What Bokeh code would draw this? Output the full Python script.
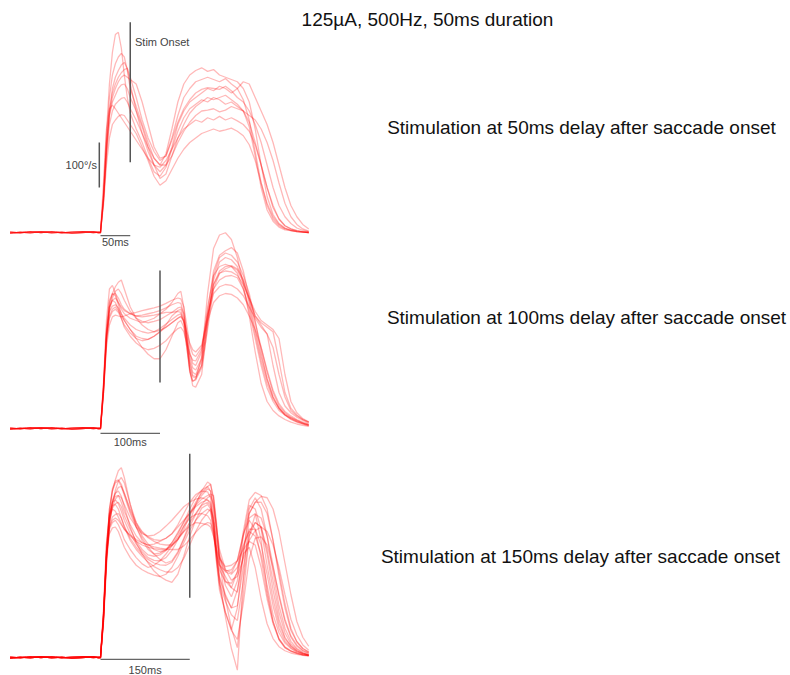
from bokeh.plotting import figure
from bokeh.models import Range1d, Label
from bokeh.embed import file_html
from bokeh.resources import INLINE

# ---------------- data (time in ms after saccade onset, eye velocity in deg/s) -------------
title_text = "125\u00b5A, 500Hz, 50ms duration"
panel_labels = ["Stimulation at 50ms delay after saccade onset",
                "Stimulation at 100ms delay after saccade onset",
                "Stimulation at 150ms delay after saccade onset"]
stim_delays = [50, 100, 150]
scale_bar_ms = [50, 100, 150]
scale_bar_labels = ["50ms", "100ms", "150ms"]
velocity_bar = [100, 200]          # 100 deg/s scale bar
velocity_bar_label = "100\u00b0/s"

# pre-saccade baseline (two recordings patterns)
pre_t = [-152, -135, -118, -100, -82, -65, -48, -30, -12, -3]
pre_a = [1, -1, 2, 0, 2, -1, 1, 2, 0, 1]
pre_b = [-2, 1, -1, 2, -1, 1, -2, 0, 2, -1]

# ---- panel 1: stimulation 50 ms after onset
p1_t = [0, 5, 10, 15, 20, 25, 30, 35, 40, 45, 50, 60, 70, 80, 90, 100, 110, 120, 130, 140, 150,
        160, 170, 180, 190, 200, 210, 220, 230, 240, 250, 260, 270, 280, 290, 300, 310, 320, 330, 340, 350]
p1_v1 = [0, 90, 220, 330, 400, 440, 445, 410, 350, 300, 265, 230, 200, 165, 135, 125, 145, 185, 225, 255, 275,
         285, 295, 290, 300, 295, 285, 290, 280, 270, 235, 170, 100, 50, 25, 12, 6, 4, 2, 1, 0]
p1_v2 = [0, 80, 200, 300, 350, 375, 390, 398, 390, 360, 320, 280, 240, 200, 165, 150, 175, 230, 290, 330, 350,
         360, 366, 358, 362, 350, 345, 340, 335, 320, 290, 230, 150, 80, 40, 20, 10, 5, 3, 1, 0]
p1_v3 = [0, 70, 180, 270, 320, 345, 360, 372, 378, 365, 330, 270, 220, 180, 150, 135, 150, 190, 240, 270, 290,
         300, 310, 320, 315, 325, 320, 310, 320, 335, 330, 300, 270, 240, 200, 150, 100, 60, 35, 18, 8]
p1_v4 = [0, 75, 190, 270, 310, 330, 345, 355, 362, 365, 345, 300, 250, 210, 180, 160, 170, 205, 245, 275, 295,
         310, 318, 322, 320, 318, 325, 315, 300, 290, 270, 240, 200, 150, 100, 60, 35, 20, 10, 5, 2]
p1_v5 = [0, 80, 200, 260, 290, 305, 320, 328, 330, 320, 300, 270, 235, 190, 150, 120, 130, 170, 210, 240, 265,
         280, 290, 300, 295, 300, 305, 295, 285, 270, 245, 200, 150, 100, 55, 30, 15, 8, 4, 2, 0]
p1_v6 = [0, 70, 170, 240, 270, 285, 292, 298, 300, 290, 275, 250, 220, 190, 165, 150, 150, 170, 200, 225, 245,
         260, 270, 272, 275, 268, 272, 280, 275, 270, 260, 250, 230, 200, 160, 110, 65, 35, 18, 8, 3]
p1_v7 = [0, 60, 150, 210, 240, 250, 258, 262, 260, 250, 240, 220, 190, 160, 125, 105, 115, 140, 165, 185, 200,
         210, 220, 225, 230, 225, 228, 232, 225, 215, 195, 160, 110, 65, 35, 18, 9, 5, 2, 1, 0]
p1_v8 = [0, 110, 230, 275, 283, 275, 265, 255, 245, 235, 225, 205, 185, 165, 150, 145, 160, 185, 210, 230, 240,
         250, 245, 255, 250, 258, 250, 255, 248, 240, 225, 195, 150, 100, 60, 30, 15, 8, 4, 2, 0]
p1_v9 = [0, 70, 175, 260, 300, 320, 335, 345, 350, 345, 340, 330, 290, 240, 190, 165, 170, 210, 260, 300, 320,
         335, 340, 345, 340, 335, 342, 330, 320, 295, 250, 180, 110, 60, 30, 15, 8, 4, 2, 1, 0]

# ---- panel 2: stimulation 100 ms after onset
p2_t = [0, 5, 10, 15, 20, 25, 30, 35, 40, 50, 60, 70, 80, 90, 100, 110, 120, 130, 135, 140, 145, 150, 155, 160,
        170, 180, 190, 200, 210, 220, 230, 240, 250, 260, 270, 280, 290, 300, 310, 320, 330, 340, 350]
p2_v1 = [0, 100, 240, 310, 318, 300, 280, 265, 255, 245, 240, 235, 240, 245, 255, 265, 280, 300, 305, 270, 200, 130, 105, 110,
         160, 300, 400, 430, 435, 420, 380, 320, 250, 170, 100, 60, 40, 28, 20, 14, 10, 7, 5]
p2_v2 = [0, 80, 200, 270, 300, 315, 325, 330, 310, 270, 245, 230, 220, 215, 218, 225, 235, 245, 250, 240, 200, 150, 125, 120,
         150, 260, 350, 385, 395, 402, 390, 350, 290, 250, 230, 210, 140, 80, 50, 35, 25, 18, 12]
p2_v3 = [0, 90, 210, 270, 285, 290, 280, 270, 262, 255, 250, 252, 255, 258, 262, 268, 275, 280, 278, 255, 210, 170, 145, 140,
         170, 270, 340, 360, 365, 360, 345, 310, 260, 200, 140, 90, 60, 40, 30, 22, 16, 12, 8]
p2_v4 = [0, 85, 200, 250, 265, 270, 262, 250, 240, 220, 200, 180, 165, 155, 155, 175, 205, 235, 240, 225, 180, 135, 115, 112,
         140, 240, 320, 350, 360, 362, 355, 330, 290, 250, 235, 225, 215, 150, 80, 45, 30, 20, 14]
p2_v5 = [0, 95, 220, 285, 300, 295, 275, 255, 240, 220, 205, 200, 198, 205, 215, 230, 250, 262, 265, 245, 190, 130, 95, 92,
         120, 230, 330, 370, 380, 375, 360, 330, 280, 220, 160, 110, 70, 45, 30, 20, 14, 10, 6]
p2_v6 = [0, 80, 180, 230, 248, 252, 250, 248, 250, 255, 258, 262, 265, 268, 272, 278, 285, 290, 288, 270, 230, 185, 165, 160,
         180, 240, 280, 295, 300, 298, 290, 275, 250, 220, 180, 130, 85, 55, 38, 28, 20, 14, 10]
p2_v7 = [0, 75, 190, 260, 290, 305, 310, 300, 285, 260, 245, 238, 235, 238, 242, 250, 258, 268, 270, 255, 210, 160, 135, 130,
         155, 250, 320, 345, 350, 348, 340, 320, 290, 260, 240, 230, 220, 200, 120, 60, 35, 22, 15]
p2_v8 = [0, 90, 210, 270, 285, 280, 265, 245, 225, 205, 190, 180, 175, 178, 185, 195, 210, 222, 225, 215, 190, 165, 152, 150,
         175, 255, 310, 330, 338, 340, 335, 310, 270, 210, 150, 100, 65, 45, 32, 24, 18, 12, 8]
p2_v9 = [0, 85, 205, 260, 272, 275, 268, 255, 245, 230, 220, 215, 212, 215, 222, 232, 242, 252, 255, 240, 195, 145, 118, 115,
         140, 240, 340, 380, 390, 385, 370, 340, 300, 240, 170, 110, 70, 45, 30, 22, 15, 10, 7]
p2_v10 = [0, 80, 195, 245, 260, 265, 258, 245, 230, 212, 200, 195, 198, 205, 215, 225, 235, 245, 248, 238, 215, 190, 175, 170,
          185, 250, 300, 315, 320, 318, 310, 295, 270, 245, 225, 210, 180, 120, 70, 40, 28, 20, 14]
p2_v11 = [0, 95, 215, 280, 298, 300, 290, 275, 265, 255, 250, 248, 250, 252, 255, 258, 258, 260, 258, 235, 180, 125, 105, 108,
          135, 220, 310, 345, 355, 360, 352, 325, 285, 235, 180, 125, 80, 50, 35, 25, 18, 12, 8]

# ---- panel 3: stimulation 150 ms after onset
p3_t = [0, 5, 10, 15, 20, 25, 30, 35, 40, 50, 60, 70, 80, 90, 100, 110, 120, 130, 140, 150, 160, 170, 180,
        185, 190, 195, 200, 210, 220, 230, 240, 250, 260, 270, 280, 290, 300, 310, 320, 330, 340, 350]
p3_v1 = [0, 80, 220, 320, 370, 395, 415, 422, 400, 340, 290, 260, 240, 230, 232, 240, 255, 275, 300, 330, 355, 372, 380,
         370, 320, 240, 170, 90, 20, -28, 180, 310, 320, 260, 150, 80, 40, 22, 14, 10, 6, 4]
p3_v2 = [0, 90, 230, 330, 370, 388, 393, 380, 360, 320, 290, 265, 245, 230, 218, 210, 215, 235, 265, 300, 340, 370, 390,
         385, 350, 290, 230, 170, 155, 190, 280, 350, 367, 360, 330, 260, 180, 110, 60, 35, 20, 12]
p3_v3 = [0, 85, 225, 310, 345, 358, 360, 345, 325, 295, 270, 255, 250, 252, 258, 265, 275, 290, 305, 320, 335, 345, 350,
         345, 300, 230, 180, 140, 110, 115, 200, 280, 300, 290, 240, 170, 100, 55, 30, 18, 10, 6]
p3_v4 = [0, 100, 250, 320, 338, 340, 330, 310, 290, 260, 240, 225, 212, 202, 195, 190, 190, 200, 220, 250, 280, 305, 322,
         330, 310, 260, 220, 190, 185, 200, 250, 280, 270, 230, 160, 95, 55, 32, 20, 12, 8, 5]
p3_v5 = [0, 80, 210, 300, 345, 365, 378, 380, 365, 330, 300, 280, 268, 262, 260, 265, 275, 295, 320, 345, 362, 370, 368,
         355, 300, 220, 160, 100, 62, 110, 230, 320, 345, 345, 320, 260, 190, 120, 65, 35, 20, 12]
p3_v6 = [0, 95, 230, 285, 300, 305, 295, 280, 262, 240, 222, 208, 200, 205, 215, 230, 248, 265, 280, 292, 300, 298, 295,
         290, 270, 240, 220, 202, 205, 215, 240, 258, 250, 200, 130, 75, 40, 22, 14, 9, 6, 4]
p3_v7 = [0, 85, 220, 310, 350, 365, 370, 358, 335, 290, 255, 230, 210, 192, 180, 172, 167, 185, 225, 270, 305, 332, 340,
         330, 285, 215, 165, 125, 95, 82, 170, 270, 318, 310, 270, 205, 135, 80, 45, 25, 15, 9]
p3_v8 = [0, 105, 255, 315, 330, 325, 312, 298, 285, 270, 258, 250, 245, 242, 240, 240, 248, 262, 280, 300, 320, 340, 355,
         360, 340, 290, 240, 195, 172, 180, 220, 260, 282, 290, 280, 250, 200, 140, 85, 50, 28, 16]
p3_v9 = [0, 90, 235, 318, 345, 350, 342, 325, 305, 275, 252, 235, 222, 216, 215, 222, 238, 262, 292, 320, 345, 365, 380,
         385, 355, 285, 215, 160, 135, 170, 270, 338, 330, 285, 205, 130, 75, 42, 25, 15, 9, 6]
p3_v10 = [0, 75, 200, 290, 340, 372, 392, 400, 388, 340, 300, 270, 252, 240, 235, 238, 250, 270, 292, 310, 318, 320, 315,
          305, 270, 230, 205, 192, 195, 215, 275, 305, 285, 220, 140, 80, 42, 24, 15, 9, 6, 4]
p3_v11 = [0, 95, 225, 275, 288, 290, 280, 262, 245, 222, 205, 195, 188, 183, 180, 185, 200, 225, 255, 283, 305, 320, 330,
          325, 280, 210, 150, 100, 60, 40, 120, 220, 265, 268, 250, 200, 140, 85, 48, 28, 16, 10]
p3_v12 = [0, 85, 215, 300, 335, 352, 360, 355, 340, 310, 290, 275, 270, 272, 280, 292, 305, 320, 335, 345, 352, 355, 350,
          340, 300, 245, 205, 180, 155, 145, 230, 330, 355, 330, 270, 190, 115, 65, 36, 20, 12, 7]
p3_v13 = [0, 90, 220, 290, 312, 318, 320, 310, 292, 265, 245, 230, 218, 210, 206, 205, 212, 232, 262, 292, 318, 338, 345,
          335, 290, 225, 175, 135, 110, 150, 230, 245, 200, 130, 75, 42, 24, 15, 10, 7, 5, 3]
p3_v14 = [0, 90, 235, 330, 375, 392, 395, 385, 365, 325, 295, 278, 266, 258, 252, 250, 250, 262, 285, 315, 340, 360, 375,
          370, 335, 275, 225, 195, 188, 215, 270, 320, 345, 358, 355, 330, 280, 210, 140, 80, 45, 25]
p3_v15 = [0, 85, 220, 305, 332, 342, 345, 335, 315, 285, 258, 240, 228, 225, 228, 238, 255, 278, 302, 322, 338, 352, 360,
          363, 360, 300, 210, 130, 65, 22, 140, 270, 300, 290, 230, 150, 85, 45, 26, 15, 9, 5]
p3_v16 = [0, 95, 235, 290, 305, 310, 305, 295, 285, 272, 262, 255, 250, 246, 243, 241, 240, 240, 248, 262, 278, 292, 300,
          298, 280, 235, 195, 168, 165, 190, 245, 285, 285, 250, 185, 115, 65, 36, 22, 13, 8, 5]

p1_traces = [p1_v1, p1_v2, p1_v3, p1_v4, p1_v5, p1_v6, p1_v7, p1_v8, p1_v9]
p2_traces = [p2_v1, p2_v2, p2_v3, p2_v4, p2_v5, p2_v6, p2_v7, p2_v8, p2_v9, p2_v10, p2_v11]
p3_traces = [p3_v1, p3_v2, p3_v3, p3_v4, p3_v5, p3_v6, p3_v7, p3_v8, p3_v9, p3_v10, p3_v11,
             p3_v12, p3_v13, p3_v14, p3_v15, p3_v16]

# ---------------- layout / style -------------
W, H = 790, 675
PX_PER_MS = 0.595
PX_PER_DEG = 0.45
T_LEFT = -100 / PX_PER_MS
FONT = "Liberation Sans"

# vertical placement of each panel's zero-velocity baseline (in deg/s units from the bottom)
panel_base = [(H - 232) / PX_PER_DEG, (H - 428) / PX_PER_DEG, (H - 657) / PX_PER_DEG]
stim_span = [(156, 467), (102, 351), (133, 453)]
bar_offset = [-7, -11, -4]
bar_label_offset = [-22, -31, -27]
label_screen = [(581, 548), (586, 358), (580, 119)]

p = figure(width=W, height=H, output_backend="svg", toolbar_location=None,
           x_range=Range1d(T_LEFT, T_LEFT + W / PX_PER_MS),
           y_range=Range1d(0, H / PX_PER_DEG),
           x_axis_location=None, y_axis_location=None, min_border=0)
p.grid.visible = False
p.outline_line_color = None
p.background_fill_color = "white"
p.border_fill_color = "white"

panels = [(p1_t, p1_traces), (p2_t, p2_traces), (p3_t, p3_traces)]
for i, (tt, traces) in enumerate(panels):
    base = panel_base[i]
    xs, ys = [], []
    for j, vv in enumerate(traces):
        pre = pre_a if j % 2 == 0 else pre_b
        xs.append(pre_t + tt)
        ys.append([base + v for v in pre + vv])
    p.multi_line(xs, ys, line_color="#ff0000", line_alpha=0.28, line_width=1.3)

    # stimulation onset marker
    lo, hi = stim_span[i]
    p.segment(x0=[stim_delays[i]], x1=[stim_delays[i]], y0=[base + lo], y1=[base + hi],
              line_color="#555555", line_width=1.5)
    # time scale bar
    p.segment(x0=[0], x1=[scale_bar_ms[i]], y0=[base + bar_offset[i]], y1=[base + bar_offset[i]],
              line_color="#666666", line_width=1.3)
    p.add_layout(Label(x=scale_bar_ms[i] / 2, y=base + bar_label_offset[i], text=scale_bar_labels[i],
                       text_font=FONT, text_font_size="11px", text_color="#444444",
                       text_align="center", text_baseline="middle"))
    # condition label
    sx, sy = label_screen[i]
    p.add_layout(Label(x=sx, y=sy, x_units="screen", y_units="screen", text=panel_labels[i],
                       text_font=FONT, text_font_size="19px", text_color="#111111",
                       text_align="center", text_baseline="middle"))

# velocity scale bar (panel 1)
b1 = panel_base[0]
p.segment(x0=[-2], x1=[-2], y0=[b1 + velocity_bar[0]], y1=[b1 + velocity_bar[1]],
          line_color="#555555", line_width=1.5)
p.add_layout(Label(x=-6, y=b1 + 149, text=velocity_bar_label, text_font=FONT, text_font_size="11px",
                   text_color="#444444", text_align="right", text_baseline="middle"))
p.add_layout(Label(x=58, y=b1 + 424, text="Stim Onset", text_font=FONT, text_font_size="11px",
                   text_color="#444444", text_align="left", text_baseline="middle"))

# title
p.add_layout(Label(x=427, y=656, x_units="screen", y_units="screen", text=title_text,
                   text_font=FONT, text_font_size="19px", text_color="#111111",
                   text_align="center", text_baseline="middle"))

open("out.html", "w").write(file_html(p, INLINE))
